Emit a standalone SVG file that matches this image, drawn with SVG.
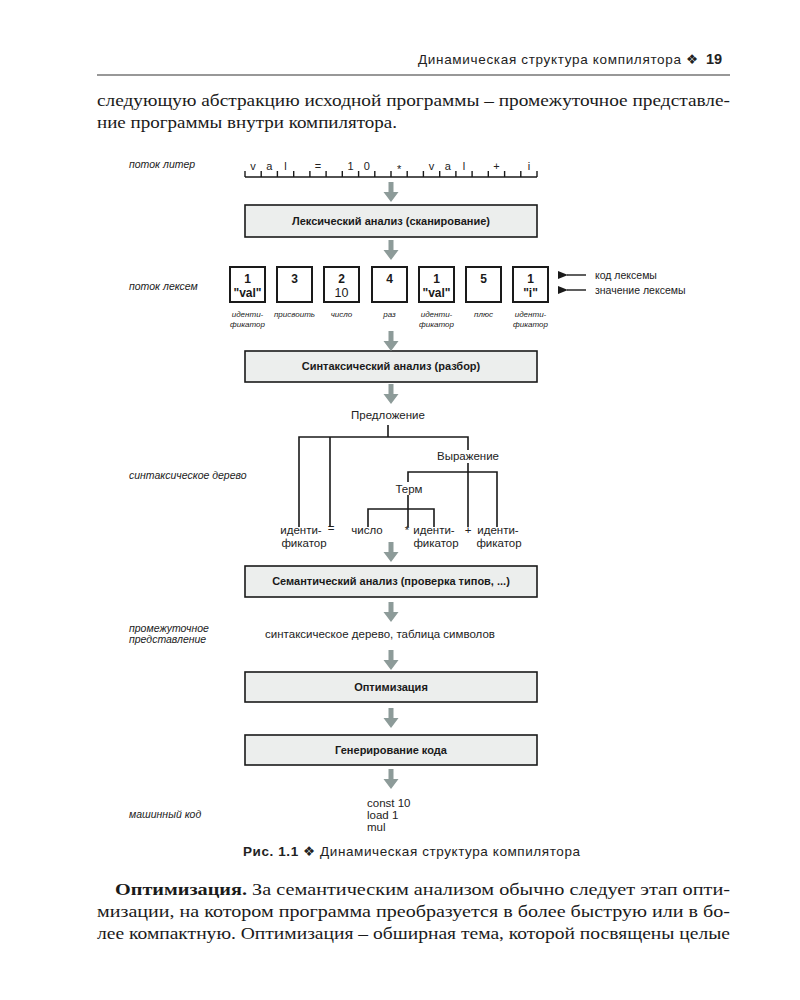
<svg xmlns="http://www.w3.org/2000/svg" width="800" height="1000" viewBox="0 0 800 1000">
<style>
.hdr{font-family:"Liberation Sans","DejaVu Sans",sans-serif;font-size:13.5px;fill:#222}
.body{font-family:"Liberation Serif","DejaVu Serif",serif;font-size:17px;fill:#1a1a1a}
.lbl{font-family:"Liberation Sans",Arial,sans-serif;font-style:italic;font-size:10.5px;fill:#222}
.sm{font-family:"Liberation Sans",Arial,sans-serif;font-style:italic;font-size:8px;fill:#222;text-anchor:middle}
.chr{font-family:"Liberation Sans",Arial,sans-serif;font-size:11px;fill:#222;text-anchor:middle}
.box{fill:#eceeed;stroke:#1a1a1a;stroke-width:1.6}
.bt{font-family:"Liberation Sans",Arial,sans-serif;font-weight:bold;font-size:11px;fill:#1a1a1a;text-anchor:middle}
.lex{fill:#fff;stroke:#1a1a1a;stroke-width:2}
.lc{font-family:"Liberation Sans",Arial,sans-serif;font-weight:bold;font-size:12px;fill:#1a1a1a;text-anchor:middle}
.lv{font-family:"Liberation Sans",Arial,sans-serif;font-size:12.5px;fill:#1a1a1a;text-anchor:middle}
.ln{stroke:#1a1a1a;stroke-width:1.6;fill:none}
.tt{font-family:"Liberation Sans",Arial,sans-serif;font-size:11.5px;fill:#222}
.arr{fill:#8d9b99}
</style>
<defs>
<path id="ar" d="M-2.5,0 H2.5 V10 H7.5 L0,20 L-7.5,10 H-2.5 Z"/>
<marker id="ah" viewBox="0 0 10 8" refX="1" refY="4" markerWidth="10" markerHeight="8" markerUnits="userSpaceOnUse" orient="auto"><path d="M10,0 L0,4 L10,8 Z" fill="#1a1a1a"/></marker>
</defs>

<!-- page header -->
<g id="header">
<text class="hdr" x="418" y="64" textLength="263">Динамическая структура компилятора</text>
<text class="hdr" x="686" y="64">❖</text>
<text class="hdr" x="706" y="64" style="font-weight:bold;font-size:14.5px">19</text>
<line x1="97" y1="75" x2="730" y2="75" stroke="#333" stroke-width="1.2"/>
</g>

<g id="para-top">
<text class="body" x="97" y="106" textLength="633" lengthAdjust="spacingAndGlyphs">следующую абстракцию исходной программы – промежуточное представле-</text>
<text class="body" x="97" y="128" textLength="300" lengthAdjust="spacingAndGlyphs">ние программы внутри компилятора.</text>
</g>

<!-- side labels -->
<g id="side-labels">
<text class="lbl" x="129" y="168">поток литер</text>
<text class="lbl" x="129" y="290">поток лексем</text>
<text class="lbl" x="129" y="479">синтаксическое дерево</text>
<text class="lbl" x="129" y="632">промежуточное</text>
<text class="lbl" x="129" y="643">представление</text>
<text class="lbl" x="129" y="818">машинный код</text>
</g>

<!-- character stream -->
<g id="char-stream">
<path class="ln" style="stroke-width:1.4" d="M245,177 H537 M245,171 V177 M261.2,171 V177 M277.4,171 V177 M293.7,171 V177 M309.9,171 V177 M326.1,171 V177 M342.3,171 V177 M358.6,171 V177 M374.8,171 V177 M391,171 V177 M407.2,171 V177 M423.4,171 V177 M439.7,171 V177 M455.9,171 V177 M472.1,171 V177 M488.3,171 V177 M504.6,171 V177 M520.8,171 V177 M537,171 V177"/>
<text class="chr" x="253.1" y="170">v</text>
<text class="chr" x="269.3" y="170">a</text>
<text class="chr" x="285.5" y="170">l</text>
<text class="chr" x="318" y="170">=</text>
<text class="chr" x="350.5" y="170">1</text>
<text class="chr" x="366.7" y="170">0</text>
<text class="chr" x="399.1" y="173">*</text>
<text class="chr" x="431.5" y="170">v</text>
<text class="chr" x="447.8" y="170">a</text>
<text class="chr" x="464" y="170">l</text>
<text class="chr" x="496.5" y="170">+</text>
<text class="chr" x="528.9" y="170">i</text>
</g>

<!-- stages -->
<g id="lexer">
<rect class="box" x="245" y="205" width="292" height="32"/>
<text class="bt" x="391" y="225">Лексический анализ (сканирование)</text>
</g>

<g id="tokens">
<rect class="lex" x="230" y="267" width="35" height="35"/>
<text class="lc" x="247.5" y="283">1</text>
<text class="lc" x="247.5" y="297">"val"</text>
<rect class="lex" x="277" y="267" width="35" height="35"/>
<text class="lc" x="294.5" y="283">3</text>
<rect class="lex" x="324" y="267" width="35" height="35"/>
<text class="lc" x="341.5" y="283">2</text>
<text class="lv" x="341.5" y="297">10</text>
<rect class="lex" x="372" y="267" width="35" height="35"/>
<text class="lc" x="389.5" y="283">4</text>
<rect class="lex" x="419" y="267" width="35" height="35"/>
<text class="lc" x="436.5" y="283">1</text>
<text class="lc" x="436.5" y="297">"val"</text>
<rect class="lex" x="466" y="267" width="35" height="35"/>
<text class="lc" x="483.5" y="283">5</text>
<rect class="lex" x="513" y="267" width="35" height="35"/>
<text class="lc" x="530.5" y="283">1</text>
<text class="lc" x="530.5" y="297">"i"</text>
<text class="sm" x="247.5" y="317">иденти-</text>
<text class="sm" x="247.5" y="327">фикатор</text>
<text class="sm" x="294.5" y="317">присвоить</text>
<text class="sm" x="341.5" y="317">число</text>
<text class="sm" x="389.5" y="317">раз</text>
<text class="sm" x="436.5" y="317">иденти-</text>
<text class="sm" x="436.5" y="327">фикатор</text>
<text class="sm" x="483.5" y="317">плюс</text>
<text class="sm" x="530.5" y="317">иденти-</text>
<text class="sm" x="530.5" y="327">фикатор</text>
</g>

<g id="token-legend">
<line class="ln" style="stroke-width:1.4" x1="586" y1="275" x2="567" y2="275" marker-end="url(#ah)"/>
<line class="ln" style="stroke-width:1.4" x1="586" y1="290" x2="567" y2="290" marker-end="url(#ah)"/>
<text class="tt" style="font-size:10.5px" x="595" y="279">код лексемы</text>
<text class="tt" style="font-size:10.5px" x="595" y="294">значение лексемы</text>
</g>

<g id="parser">
<rect class="box" x="245" y="351" width="292" height="31"/>
<text class="bt" x="391" y="370">Синтаксический анализ (разбор)</text>
</g>

<g id="syntax-tree">
<text class="tt" x="388" y="419" text-anchor="middle">Предложение</text>
<text class="tt" x="468" y="460" text-anchor="middle">Выражение</text>
<text class="tt" x="409" y="493" text-anchor="middle">Терм</text>
<text class="tt" x="301" y="534" text-anchor="middle">иденти-</text>
<text class="tt" x="304" y="547" text-anchor="middle">фикатор</text>
<text class="tt" x="331" y="532" text-anchor="middle">=</text>
<text class="tt" x="367" y="534" text-anchor="middle">число</text>
<text class="tt" x="407" y="534" text-anchor="middle">*</text>
<text class="tt" x="434" y="534" text-anchor="middle">иденти-</text>
<text class="tt" x="436" y="547" text-anchor="middle">фикатор</text>
<text class="tt" x="468" y="534" text-anchor="middle">+</text>
<text class="tt" x="498" y="534" text-anchor="middle">иденти-</text>
<text class="tt" x="499" y="547" text-anchor="middle">фикатор</text>
</g>

<g id="semantic">
<rect class="box" x="245" y="566" width="292" height="31"/>
<text class="bt" x="391" y="585">Семантический анализ (проверка типов, ...)</text>
</g>

<g id="ir">
<text class="tt" x="380" y="638" text-anchor="middle">синтаксическое дерево, таблица символов</text>
</g>

<g id="optimizer">
<rect class="box" x="245" y="672" width="292" height="30"/>
<text class="bt" x="391" y="691">Оптимизация</text>
</g>

<g id="codegen">
<rect class="box" x="245" y="735" width="292" height="30"/>
<text class="bt" x="391" y="754">Генерирование кода</text>
</g>

<g id="machine-code">
<text class="tt" x="367" y="807">const 10</text>
<text class="tt" x="367" y="819">load 1</text>
<text class="tt" x="367" y="831">mul</text>
</g>

<!-- connectors -->
<g id="connectors">
<g class="arr">
<use href="#ar" x="391" y="182"/>
<use href="#ar" x="391" y="240"/>
<use href="#ar" x="391" y="331"/>
<use href="#ar" x="391" y="384"/>
<use href="#ar" x="391" y="542"/>
<use href="#ar" x="391" y="602"/>
<use href="#ar" x="391" y="650"/>
<use href="#ar" x="391" y="708"/>
<use href="#ar" x="391" y="769"/>
</g>
<path class="ln" d="M388,425 V437 M299,527 V437 H468 V450 M330,437 V527 M468,463 V527 M408,482 V472 H497 V527 M408,495 V527 M368,527 V509 H434 V527"/>
</g>

<g id="caption">
<text class="hdr" x="243" y="856" style="font-size:13.5px" textLength="337"><tspan font-weight="bold">Рис. 1.1</tspan>  ❖  Динамическая структура компилятора</text>
</g>

<g id="para-bottom">
<text class="body" x="115" y="895" textLength="615" lengthAdjust="spacingAndGlyphs"><tspan font-weight="bold">Оптимизация.</tspan> За семантическим анализом обычно следует этап опти-</text>
<text class="body" x="97" y="917" textLength="633" lengthAdjust="spacingAndGlyphs">мизации, на котором программа преобразуется в более быструю или в бо-</text>
<text class="body" x="97" y="939" textLength="633" lengthAdjust="spacingAndGlyphs">лее компактную. Оптимизация – обширная тема, которой посвящены целые</text>
</g>
</svg>
